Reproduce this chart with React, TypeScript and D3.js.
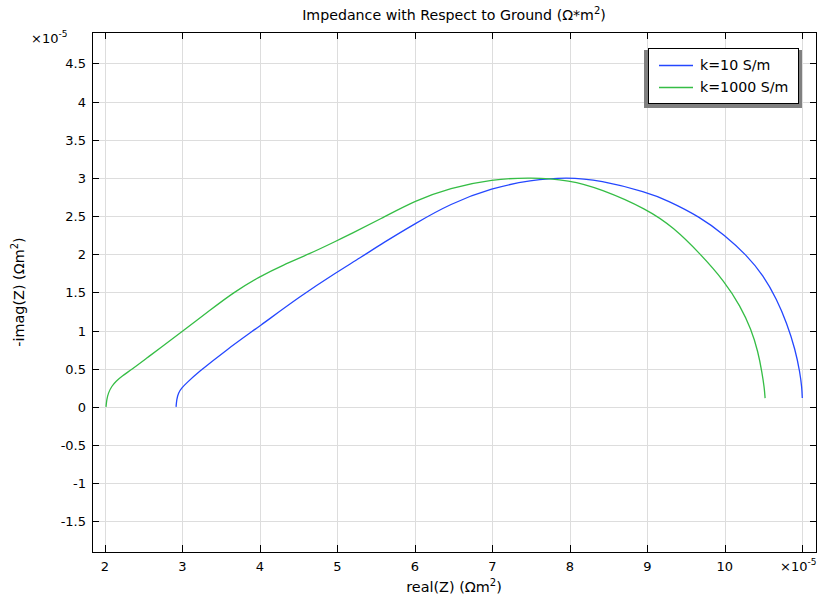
import { useEffect, useRef } from "react";
import * as d3 from "d3";

// ---------------------------------------------------------------- DATA
// values, both axes in units of 1e-5
const seriesNames = ["k=10 S/m", "k=1000 S/m"];
const seriesColors = ["#2447ff", "#35bd45"];

// k=10 S/m : real(Z), -imag(Z)
const blueRe = [2.917, 2.925, 2.946, 2.99, 3.055, 3.184, 3.57, 4.0, 4.52, 5.0, 5.29, 5.59, 6.0, 6.45, 7.0, 7.49, 7.96, 8.39, 9.0, 9.25, 9.68, 10.0, 10.28, 10.5, 10.67, 10.8, 10.91, 10.97, 10.995, 11.0];
const blueIm = [0, 0.096, 0.183, 0.249, 0.314, 0.437, 0.75, 1.06, 1.45, 1.77, 1.95, 2.15, 2.4, 2.66, 2.87, 2.97, 3.01, 2.97, 2.81, 2.71, 2.49, 2.25, 1.99, 1.72, 1.41, 1.1, 0.75, 0.45, 0.25, 0.115];

// k=1000 S/m
const greenRe = [2.013, 2.022, 2.043, 2.086, 2.142, 2.215, 2.344, 2.54, 2.71, 3.0, 3.36, 3.66, 4.0, 4.3, 4.63, 5.0, 5.16, 5.59, 6.0, 6.45, 7.0, 7.49, 8.0, 8.39, 9.0, 9.34, 9.68, 10.0, 10.2, 10.34, 10.43, 10.48, 10.51, 10.52];
const greenIm = [0, 0.096, 0.183, 0.27, 0.336, 0.4, 0.49, 0.64, 0.77, 0.99, 1.27, 1.5, 1.71, 1.86, 2.0, 2.18, 2.26, 2.48, 2.7, 2.87, 2.98, 3.01, 2.97, 2.86, 2.59, 2.35, 2.01, 1.64, 1.32, 1.02, 0.72, 0.45, 0.25, 0.115];

const xTicks = [2, 3, 4, 5, 6, 7, 8, 9, 10, 11];
const yTicks = [-1.5, -1, -0.5, 0, 0.5, 1, 1.5, 2, 2.5, 3, 3.5, 4, 4.5];

const W = 818;
const H = 595;
const FONT = "'DejaVu Sans', sans-serif";

const App = () => {
  const svgRef = useRef<SVGSVGElement | null>(null);

  useEffect(() => {
    const svg = d3.select(svgRef.current);
    svg.selectAll("*").remove();

    // plot frame in pixels
    const left = 92, right = 817, top = 32, bottom = 552;

    const x = d3.scaleLinear().domain([1.832, 11.19]).range([left, right]);
    const y = d3.scaleLinear().domain([-1.902, 4.912]).range([bottom, top]);

    svg.append("rect").attr("width", W).attr("height", H).attr("fill", "#fff");

    // ---------------------------------------------------------- GRID
    const grid = svg.append("g").attr("stroke", "#dddddd").attr("stroke-width", 1);
    xTicks.forEach((t) => {
      const px = Math.round(x(t)) + 0.5;
      grid.append("line").attr("x1", px).attr("x2", px).attr("y1", top).attr("y2", bottom);
    });
    yTicks.forEach((t) => {
      const py = Math.round(y(t)) + 0.5;
      grid.append("line").attr("x1", left).attr("x2", right).attr("y1", py).attr("y2", py);
    });

    // ---------------------------------------------------------- CURVES
    const line = d3
      .line<[number, number]>()
      .x((d) => x(d[0]))
      .y((d) => y(d[1]))
      .curve(d3.curveBasis);

    const series = [
      blueRe.map((v, i) => [v, blueIm[i]] as [number, number]),
      greenRe.map((v, i) => [v, greenIm[i]] as [number, number]),
    ];
    series.forEach((pts, i) => {
      svg
        .append("path")
        .attr("d", line(pts))
        .attr("fill", "none")
        .attr("stroke", seriesColors[i])
        .attr("stroke-width", 1.3);
    });

    // ---------------------------------------------------------- FRAME + TICKS (all inward)
    const axes = svg.append("g").attr("stroke", "#000").attr("stroke-width", 1);
    axes
      .append("rect")
      .attr("x", left + 0.5)
      .attr("y", top + 0.5)
      .attr("width", right - left - 1)
      .attr("height", bottom - top)
      .attr("fill", "none");
    xTicks.forEach((t) => {
      const px = Math.round(x(t)) + 0.5;
      axes.append("line").attr("x1", px).attr("x2", px).attr("y1", bottom).attr("y2", bottom - 7);
      axes.append("line").attr("x1", px).attr("x2", px).attr("y1", top).attr("y2", top + 7);
    });
    yTicks.forEach((t) => {
      const py = Math.round(y(t)) + 0.5;
      axes.append("line").attr("x1", left).attr("x2", left + 7).attr("y1", py).attr("y2", py);
      axes.append("line").attr("x1", right).attr("x2", right - 7).attr("y1", py).attr("y2", py);
    });

    // ---------------------------------------------------------- TICK LABELS
    const txt = svg.append("g").attr("font-family", FONT).attr("font-size", 13).attr("fill", "#000");
    xTicks.slice(0, -1).forEach((t) => {
      txt.append("text").attr("x", x(t)).attr("y", bottom + 19).attr("text-anchor", "middle").text(String(t));
    });
    yTicks.forEach((t) => {
      txt.append("text").attr("x", left - 6).attr("y", y(t) + 5).attr("text-anchor", "end").text(String(t));
    });

    // exponent labels
    const expLabel = (px: number, py: number) => {
      const e = txt.append("text").attr("x", px).attr("y", py);
      e.append("tspan").text("×10");
      e.append("tspan").attr("dy", -6).attr("font-size", 9).text("-5");
    };
    expLabel(31, 43);
    expLabel(780, bottom + 19);

    // ---------------------------------------------------------- TITLES
    const sup = (t: d3.Selection<SVGTextElement, unknown, null, undefined>, base: string, s: number) => {
      t.append("tspan").text(base);
      t.append("tspan").attr("dy", -6).attr("font-size", s).text("2");
      t.append("tspan").attr("dy", 6).text(")");
    };

    const title = txt.append("text").attr("x", 454).attr("y", 20).attr("text-anchor", "middle").attr("font-size", 14.2);
    sup(title, "Impedance with Respect to Ground (Ω*m", 10);

    const xl = txt.append("text").attr("x", 454).attr("y", 592).attr("text-anchor", "middle").attr("font-size", 14.4);
    sup(xl, "real(Z) (Ωm", 10);

    const yl = txt
      .append("text")
      .attr("transform", `translate(24, ${(top + bottom) / 2}) rotate(-90)`)
      .attr("text-anchor", "middle")
      .attr("font-size", 14.4);
    sup(yl, "-imag(Z) (Ωm", 10);

    // ---------------------------------------------------------- LEGEND
    const lg = svg.append("g");
    lg.append("rect").attr("x", 644).attr("y", 50).attr("width", 158).attr("height", 58).attr("fill", "#808080");
    lg.append("rect")
      .attr("x", 648.5)
      .attr("y", 48.5)
      .attr("width", 150)
      .attr("height", 55)
      .attr("fill", "#fff")
      .attr("stroke", "#000");
    seriesNames.forEach((name, i) => {
      const ly = 65 + i * 22;
      lg.append("line")
        .attr("x1", 659)
        .attr("x2", 693)
        .attr("y1", ly + 0.5)
        .attr("y2", ly + 0.5)
        .attr("stroke", seriesColors[i])
        .attr("stroke-width", 1.3);
      lg.append("text")
        .attr("x", 700)
        .attr("y", ly + 5)
        .attr("font-family", FONT)
        .attr("font-size", 14.2)
        .text(name);
    });
  }, []);

  return (
    <svg
      ref={svgRef}
      width={W}
      height={H}
      style={{ position: "absolute", left: 0, top: 0 }}
    />
  );
};

export default App;
